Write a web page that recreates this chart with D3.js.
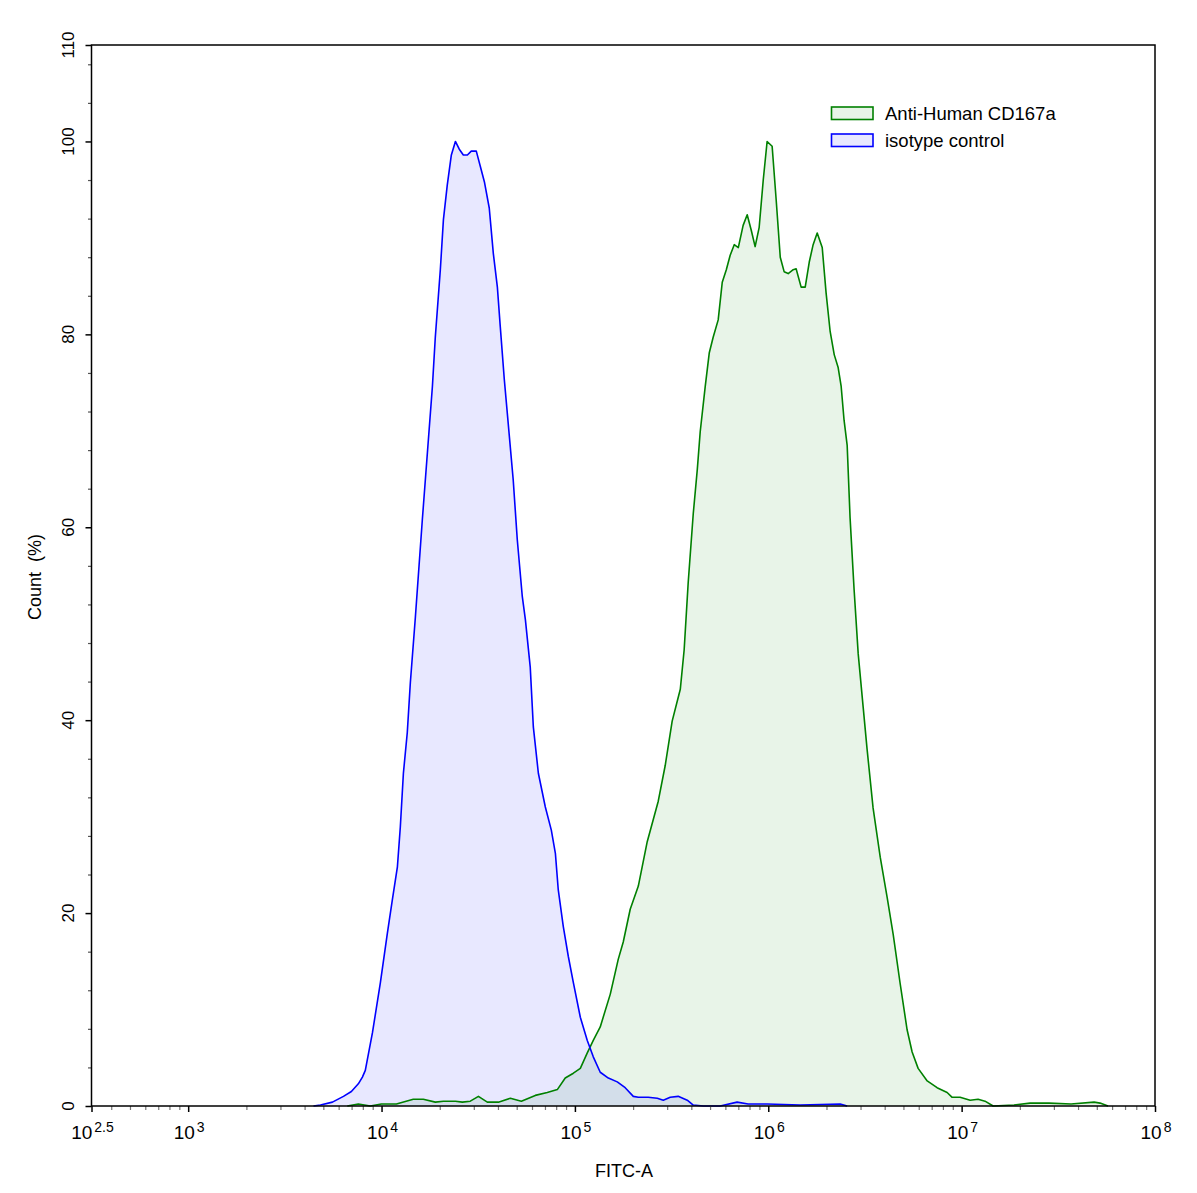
<!DOCTYPE html>
<html>
<head>
<meta charset="utf-8">
<script src="https://cdn.jsdelivr.net/npm/d3@7/dist/d3.min.js"></script>
<style>
  html, body { margin: 0; padding: 0; background: #fff; }
  svg text { font-family: "Liberation Sans", Arial, Helvetica, sans-serif; fill: #000; }
</style>
</head>
<body>
<svg id="chart" width="1197" height="1193"></svg>
<script>
// ---- data (x values are log10 of FITC-A intensity, y values are Count %) ----
const seriesNames = ["Anti-Human CD167a", "isotype control"];
const seriesStroke = ["#008000", "#0000ff"];

const isoLogFITC = [3.648,3.684,3.746,3.803,3.844,3.880,3.901,3.916,3.953,3.994,4.030,4.056,4.082,4.097,4.113,4.133,4.149,4.175,4.211,4.237,4.263,4.278,4.304,4.320,4.340,4.361,4.382,4.402,4.423,4.444,4.464,4.490,4.511,4.532,4.557,4.578,4.599,4.614,4.635,4.681,4.702,4.728,4.744,4.769,4.785,4.811,4.847,4.878,4.899,4.914,4.940,4.966,4.992,5.028,5.064,5.095,5.131,5.173,5.219,5.260,5.302,5.328,5.379,5.426,5.457,5.493,5.534,5.581,5.612,5.664,5.751,5.839,5.896,5.994,6.165,6.372,6.408];
const isoCount   = [0,0.1,0.4,1.0,1.5,2.3,3.0,3.7,7.6,12.8,17.9,21.4,24.8,28.9,34.5,38.7,43.9,50.7,60.8,67.7,74.6,79.7,86.7,91.9,95.5,98.6,100,99.2,98.6,98.6,99.0,99.0,97.4,95.8,93.1,88.4,84.9,80.8,75.3,64.9,58.7,52.8,50.4,45.5,39.3,34.5,31.0,28.6,26.2,22.4,18.6,15.5,12.8,9.2,6.8,5.1,3.5,2.9,2.5,1.9,1.0,0.9,0.9,0.8,0.6,0.9,1.0,0.6,0.1,0,0,0.4,0.2,0.2,0.1,0.2,0];

const cdLogFITC = [3.823,3.880,3.942,3.999,4.077,4.164,4.216,4.278,4.320,4.382,4.418,4.459,4.501,4.547,4.604,4.666,4.723,4.795,4.857,4.909,4.950,4.992,5.028,5.064,5.095,5.131,5.183,5.224,5.250,5.286,5.328,5.374,5.431,5.467,5.503,5.545,5.565,5.586,5.612,5.633,5.648,5.674,5.695,5.715,5.741,5.762,5.783,5.803,5.824,5.845,5.870,5.891,5.912,5.932,5.953,5.974,5.994,6.020,6.041,6.062,6.082,6.103,6.129,6.144,6.170,6.191,6.212,6.232,6.253,6.279,6.299,6.320,6.341,6.361,6.377,6.392,6.408,6.423,6.444,6.465,6.491,6.511,6.542,6.579,6.615,6.646,6.682,6.718,6.744,6.775,6.822,6.873,6.925,6.951,6.992,7.044,7.085,7.121,7.163,7.271,7.354,7.452,7.566,7.685,7.716,7.757];
const cdCount   = [0,0.2,0,0.2,0.2,0.7,0.7,0.4,0.5,0.5,0.4,0.5,1.0,0.4,0.4,0.8,0.5,1.1,1.4,1.7,2.9,3.4,3.9,5.5,6.8,8.2,11.6,15.2,17.0,20.4,22.8,27.4,31.6,35.3,39.9,43.2,47.3,54.3,61.4,66.0,69.9,74.6,78.1,79.7,81.5,85.4,86.7,88.2,89.3,89.0,91.3,92.4,90.8,89.1,91.1,96.0,100,99.5,93.9,88.0,86.5,86.3,86.7,86.8,84.9,84.9,87.5,89.3,90.5,89.0,84.3,80.3,77.9,76.6,74.6,71.1,68.5,61.0,53.5,46.9,41.3,37.0,30.9,25.8,21.6,17.8,12.7,7.9,5.6,3.9,2.6,1.9,1.4,0.9,0.9,0.6,0.7,0.5,0,0.1,0.3,0.3,0.2,0.4,0.3,0];

const xTickExponents = ["2.5", "3", "4", "5", "6", "7", "8"];
const yMajorTicks = [0, 20, 40, 60, 80, 100, 110];
const yMinorStep = 4;
const xTitle = "FITC-A";
const yTitle = "Count  (%)";

// ---- layout ----
const L = 91.5, R = 1155, T = 45, B = 1106;
const svg = d3.select("#chart");

const x = d3.scaleLog().domain([Math.pow(10, 2.5), 1e8]).range([L, R]);
const y = d3.scaleLinear().domain([0, 110]).range([B, T]);

const iso = isoLogFITC.map((e, i) => ({ v: Math.pow(10, e), c: isoCount[i] }));
const cd  = cdLogFITC.map((e, i) => ({ v: Math.pow(10, e), c: cdCount[i] }));

const area = d3.area().x(d => x(d.v)).y0(y(0)).y1(d => y(d.c)).curve(d3.curveLinear);
const line = d3.line().x(d => x(d.v)).y(d => y(d.c)).curve(d3.curveLinear);

// fills
svg.append("path").datum(cd).attr("d", area).attr("fill", seriesStroke[0]).attr("fill-opacity", 0.09);
svg.append("path").datum(iso).attr("d", area).attr("fill", seriesStroke[1]).attr("fill-opacity", 0.09);
// lines
svg.append("path").datum(cd).attr("d", line).attr("fill", "none").attr("stroke", seriesStroke[0]).attr("stroke-width", 1.6).attr("stroke-linejoin", "round");
svg.append("path").datum(iso).attr("d", line).attr("fill", "none").attr("stroke", seriesStroke[1]).attr("stroke-width", 1.6).attr("stroke-linejoin", "round");

// ---- axes ----
// x minor ticks
const xMinor = [];
for (let dec = 2; dec <= 7; dec++) {
  for (let m = 2; m <= 9; m++) {
    const v = m * Math.pow(10, dec);
    if (v > Math.pow(10, 2.5) && v < 1e8) xMinor.push(v);
  }
}
const xAxisMinor = d3.axisBottom(x).tickValues(xMinor).tickSize(4).tickFormat("");
const gxm = svg.append("g").attr("transform", `translate(0,${B})`).call(xAxisMinor);
gxm.select(".domain").remove();
gxm.selectAll(".tick line").attr("stroke", "#777").attr("stroke-width", 1.2);

const xMajorVals = xTickExponents.map(e => Math.pow(10, +e));
const xAxisMajor = d3.axisBottom(x).tickValues(xMajorVals).tickSize(6).tickFormat("");
const gx = svg.append("g").attr("transform", `translate(0,${B})`).call(xAxisMajor);
gx.select(".domain").remove();
gx.selectAll(".tick line").attr("stroke", "#000").attr("stroke-width", 1.5);

// x tick labels: 10^e
xTickExponents.forEach(e => {
  const t = svg.append("text")
    .attr("x", x(Math.pow(10, +e)) + 1)
    .attr("y", 1139)
    .attr("text-anchor", "middle")
    .style("font-size", "19px");
  t.append("tspan").text("10");
  t.append("tspan").attr("dx", 2).attr("dy", -7).style("font-size", "14px").text(e);
});

// y minor ticks
const yMinor = d3.range(0, 110, yMinorStep).filter(v => v % 20 !== 0);
const yAxisMinor = d3.axisLeft(y).tickValues(yMinor).tickSize(3.5).tickFormat("");
const gym = svg.append("g").attr("transform", `translate(${L},0)`).call(yAxisMinor);
gym.select(".domain").remove();
gym.selectAll(".tick line").attr("stroke", "#555").attr("stroke-width", 1.2);

const yAxisMajor = d3.axisLeft(y).tickValues(yMajorTicks).tickSize(6).tickFormat("");
const gy = svg.append("g").attr("transform", `translate(${L},0)`).call(yAxisMajor);
gy.select(".domain").remove();
gy.selectAll(".tick line").attr("stroke", "#000").attr("stroke-width", 1.5);

yMajorTicks.forEach(v => {
  svg.append("text")
    .attr("transform", `translate(74,${y(v)}) rotate(-90)`)
    .attr("text-anchor", "middle")
    .style("font-size", "17px")
    .text(v);
});

// frame
svg.append("rect").attr("x", L).attr("y", T).attr("width", R - L).attr("height", B - T)
  .attr("fill", "none").attr("stroke", "#000").attr("stroke-width", 1.5);

// titles
svg.append("text").attr("x", 624).attr("y", 1177).attr("text-anchor", "middle")
  .style("font-size", "18px").text(xTitle);
svg.append("text").attr("transform", `translate(41,577) rotate(-90)`).attr("text-anchor", "middle")
  .attr("xml:space", "preserve").style("white-space", "pre")
  .style("font-size", "18px").text(yTitle);

// legend
const legendRows = [
  { name: seriesNames[0], color: seriesStroke[0], y: 107 },
  { name: seriesNames[1], color: seriesStroke[1], y: 134 }
];
legendRows.forEach(r => {
  svg.append("rect").attr("x", 831.5).attr("y", r.y).attr("width", 41.5).attr("height", 12.5)
    .attr("fill", r.color).attr("fill-opacity", 0.09)
    .attr("stroke", r.color).attr("stroke-width", 1.6);
  svg.append("text").attr("x", 885).attr("y", r.y + 12.5).style("font-size", "18.5px").text(r.name);
});
</script>
</body>
</html>
